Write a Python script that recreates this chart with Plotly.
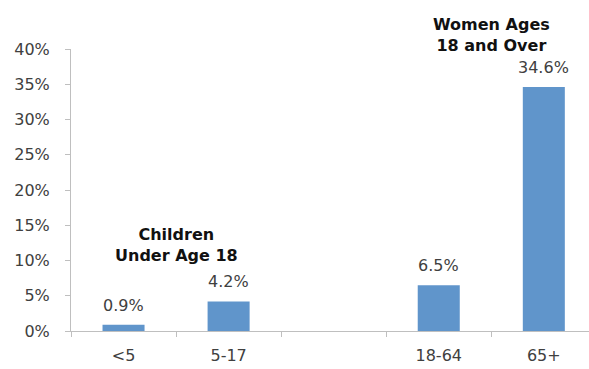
import plotly.graph_objects as go

categories = ["<5", "5-17", " ", "18-64", "65+"]
values = [0.9, 4.2, None, 6.5, 34.6]
group_labels = ["Children<br>Under Age 18", "Women Ages<br>18 and Over"]
y_ticks = [0, 5, 10, 15, 20, 25, 30, 35, 40]

BAR = "#6095CB"
FONT = "DejaVu Sans"
TXT = "#404040"

fig = go.Figure()
fig.add_trace(go.Bar(
    x=categories, y=values, marker=dict(color=BAR, line=dict(width=0)),
    width=0.4, hoverinfo="skip",
))

for c, v in zip(categories, values):
    if v is None:
        continue
    fig.add_annotation(x=c, y=v, text=f"{v:.1f}%", showarrow=False,
                       yanchor="bottom", yshift=8,
                       font=dict(family=FONT, size=16, color=TXT))

fig.add_annotation(x=0.5, y=12.2, text=f"<b>{group_labels[0]}</b>", showarrow=False,
                   yanchor="middle",
                   font=dict(family=FONT, size=16, color="#111111"))
fig.add_annotation(x=3.5, xref="x", y=1.05, yref="paper", yanchor="middle",
                   text=f"<b>{group_labels[1]}</b>", showarrow=False,
                   font=dict(family=FONT, size=16, color="#111111"))

fig.update_layout(
    width=589, height=369,
    margin=dict(l=71, r=0, t=49, b=38),
    paper_bgcolor="white", plot_bgcolor="white",
    showlegend=False,
    font=dict(family=FONT, size=16, color=TXT),
)
fig.update_xaxes(
    type="category", range=[-0.5, 4.43],
    showline=True, linecolor="#BFBFBF", linewidth=1,
    ticks="outside", tickson="boundaries", ticklen=5, tickcolor="#BFBFBF",
    showgrid=False, ticklabelstandoff=10,
    tickfont=dict(family=FONT, size=16, color=TXT),
)
fig.update_yaxes(
    range=[0, 40], tickvals=y_ticks, ticktext=[f"{t}%" for t in y_ticks],
    showline=True, linecolor="#BFBFBF", linewidth=1,
    ticks="outside", ticklen=5, tickcolor="#BFBFBF",
    showgrid=False, zeroline=False, ticklabelstandoff=12,
    tickfont=dict(family=FONT, size=16, color=TXT),
)

fig.write_html("out.html")
